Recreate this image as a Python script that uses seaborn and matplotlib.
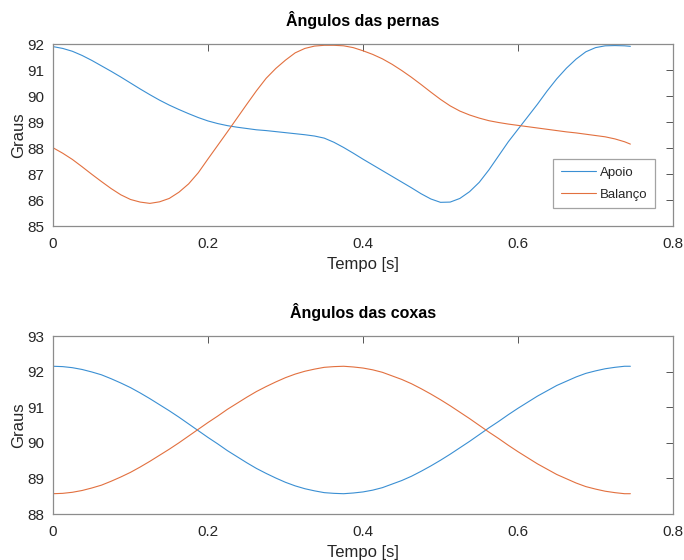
import matplotlib
matplotlib.use("Agg")
import matplotlib.pyplot as plt
import seaborn as sns
import pandas as pd

# ---------------- data ----------------
tempo = [0.0, 0.0125, 0.025, 0.0375, 0.05, 0.0625, 0.075, 0.0875, 0.1, 0.1125,
         0.125, 0.1375, 0.15, 0.1625, 0.175, 0.1875, 0.2, 0.2125, 0.225, 0.2375,
         0.25, 0.2625, 0.275, 0.2875, 0.3, 0.3125, 0.325, 0.3375, 0.35, 0.3625,
         0.375, 0.3875, 0.4, 0.4125, 0.425, 0.4375, 0.45, 0.4625, 0.475, 0.4875,
         0.5, 0.5125, 0.525, 0.5375, 0.55, 0.5625, 0.575, 0.5875, 0.6, 0.6125,
         0.625, 0.6375, 0.65, 0.6625, 0.675, 0.6875, 0.7, 0.7125, 0.725, 0.7375,
         0.745]

pernas_apoio = [91.90, 91.83, 91.72, 91.56, 91.37, 91.16, 90.95, 90.73, 90.50, 90.27,
                90.05, 89.84, 89.65, 89.48, 89.32, 89.17, 89.04, 88.94, 88.86, 88.80,
                88.75, 88.70, 88.67, 88.63, 88.59, 88.55, 88.51, 88.46, 88.38, 88.22,
                88.02, 87.80, 87.57, 87.35, 87.13, 86.91, 86.69, 86.47, 86.24, 86.04,
                85.91, 85.92, 86.06, 86.32, 86.68, 87.16, 87.70, 88.24, 88.72, 89.20,
                89.68, 90.19, 90.66, 91.07, 91.42, 91.70, 91.86, 91.93, 91.94, 91.93,
                91.91]
pernas_balanco = [88.01, 87.80, 87.56, 87.28, 86.99, 86.71, 86.44, 86.20, 86.02, 85.92,
                  85.87, 85.93, 86.06, 86.30, 86.62, 87.05, 87.58, 88.10, 88.62, 89.15,
                  89.68, 90.20, 90.68, 91.06, 91.38, 91.66, 91.83, 91.92, 91.95, 91.95,
                  91.93, 91.86, 91.74, 91.60, 91.43, 91.22, 90.98, 90.72, 90.44, 90.15,
                  89.87, 89.62, 89.42, 89.27, 89.15, 89.05, 88.98, 88.92, 88.87, 88.82,
                  88.77, 88.72, 88.67, 88.62, 88.58, 88.53, 88.48, 88.43, 88.35, 88.24,
                  88.15]

coxas_apoio = [92.15, 92.14, 92.11, 92.06, 91.99, 91.91, 91.80, 91.68, 91.55, 91.40,
               91.24, 91.07, 90.90, 90.72, 90.53, 90.34, 90.15, 89.97, 89.78, 89.61,
               89.44, 89.28, 89.14, 89.01, 88.89, 88.79, 88.71, 88.65, 88.60, 88.58,
               88.57, 88.59, 88.62, 88.67, 88.74, 88.84, 88.94, 89.06, 89.20, 89.35,
               89.51, 89.68, 89.86, 90.04, 90.23, 90.42, 90.60, 90.79, 90.97, 91.14,
               91.31, 91.46, 91.61, 91.73, 91.85, 91.95, 92.02, 92.08, 92.12, 92.15,
               92.15]
coxas_balanco = [88.57, 88.58, 88.61, 88.66, 88.73, 88.81, 88.92, 89.04, 89.17, 89.32,
                 89.48, 89.65, 89.82, 90.00, 90.19, 90.38, 90.57, 90.75, 90.94, 91.11,
                 91.28, 91.44, 91.58, 91.71, 91.83, 91.93, 92.01, 92.07, 92.12, 92.14,
                 92.15, 92.13, 92.10, 92.05, 91.98, 91.88, 91.78, 91.66, 91.52, 91.37,
                 91.21, 91.04, 90.86, 90.68, 90.49, 90.30, 90.12, 89.93, 89.75, 89.58,
                 89.41, 89.26, 89.11, 88.99, 88.87, 88.77, 88.70, 88.64, 88.60, 88.57,
                 88.57]

series_names = ["Apoio", "Balanço"]
titles = ["Ângulos das pernas", "Ângulos das coxas"]
xlabel = "Tempo [s]"
ylabel = "Graus"
xticks = [0, 0.2, 0.4, 0.6, 0.8]
xtick_labels = ["0", "0.2", "0.4", "0.6", "0.8"]
yticks_top = [85, 86, 87, 88, 89, 90, 91, 92]
yticks_bot = [88, 89, 90, 91, 92, 93]

# ---------------- style ----------------
sns.set_style("white")
plt.rcParams["font.family"] = ["Liberation Sans Narrow", "Liberation Sans", "DejaVu Sans"]
plt.rcParams["xtick.direction"] = "in"
plt.rcParams["ytick.direction"] = "in"

palette = {"Apoio": "#3a8fd3", "Balanço": "#e2703f"}
spine_col = "#8c8c8c"
text_col = "#262626"

fig = plt.figure(figsize=(6.84, 5.6), dpi=100)
W, H = 684, 560

def make_ax(left, top, right, bottom):
    return fig.add_axes([left / W, 1 - bottom / H, (right - left) / W, (bottom - top) / H])

ax1 = make_ax(53, 44, 673, 226)
ax2 = make_ax(53, 336, 673, 514)

n = len(tempo)
df1 = pd.DataFrame({
    "t": tempo * 2,
    "v": pernas_apoio + pernas_balanco,
    "s": [series_names[0]] * n + [series_names[1]] * n,
})
df2 = pd.DataFrame({
    "t": tempo * 2,
    "v": coxas_apoio + coxas_balanco,
    "s": [series_names[0]] * n + [series_names[1]] * n,
})

sns.lineplot(data=df1, x="t", y="v", hue="s", palette=palette, ax=ax1,
             linewidth=0.8, legend=True, sort=False)
sns.lineplot(data=df2, x="t", y="v", hue="s", palette=palette, ax=ax2,
             linewidth=0.8, legend=False, sort=False)

for ax, title, yt in [(ax1, titles[0], yticks_top), (ax2, titles[1], yticks_bot)]:
    ax.set_xlim(0, 0.8)
    ax.set_ylim(yt[0], yt[-1])
    ax.set_xticks(xticks)
    ax.set_xticklabels(xtick_labels)
    ax.set_yticks(yt)
    ax.set_yticklabels([str(v) for v in yt])
    ax.tick_params(axis="both", which="both", direction="in", length=5, width=0.7,
                   color="#555555", labelsize=11, labelcolor=text_col,
                   top=True, right=True)
    ax.tick_params(axis="x", pad=8)
    ax.tick_params(axis="y", pad=6)
    for sp in ax.spines.values():
        sp.set_visible(True)
        sp.set_color(spine_col)
        sp.set_linewidth(0.9)
    ax.set_xlabel(xlabel, fontsize=12, color=text_col, labelpad=4)
    ax.set_ylabel(ylabel, fontsize=12, color=text_col, labelpad=1)
    ax.set_title(title, fontsize=11.5, fontweight="bold", color="black", pad=13)

leg = ax1.legend(loc="lower right", bbox_to_anchor=((655 - 53) / 620, (226 - 208) / 182),
                 borderaxespad=0, frameon=True, fancybox=False, fontsize=9.5,
                 handlelength=2.7, handletextpad=0.3, labelspacing=0.75,
                 borderpad=0.55)
leg.get_frame().set_edgecolor(spine_col)
leg.get_frame().set_linewidth(0.9)
for t in leg.get_texts():
    t.set_color(text_col)

fig.savefig("out.png", dpi=100)
